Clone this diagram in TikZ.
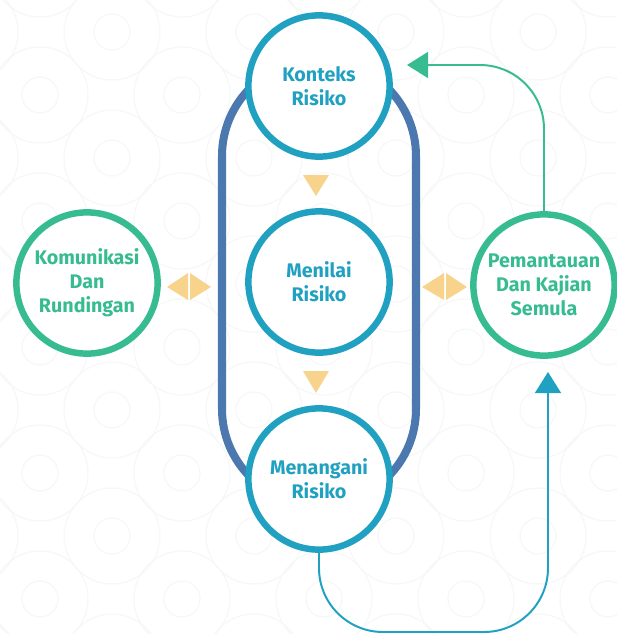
\documentclass[tikz,border=0pt]{standalone}
\usepackage{fontspec}
\setsansfont{Fira Sans}
\usetikzlibrary{arrows.meta}

\definecolor{riskblue}{RGB}{33,161,193}
\definecolor{riskgreen}{RGB}{55,188,146}
\definecolor{loopblue}{RGB}{75,120,174}
\definecolor{softyellow}{RGB}{248,211,140}
\definecolor{faintgrey}{RGB}{246,247,248}

\tikzset{
  stepcircle/.style={circle, draw=#1, line width=4.6pt, fill=white,
    minimum size=3.53cm, inner sep=0pt, text=#1, align=center,
    font=\sffamily\bfseries\fontsize{14}{17}\selectfont},
  backarrow/.style={draw=#1, line width=1.4pt, rounded corners=1.6cm,
    -{Triangle[length=15pt,width=18.5pt,fill=#1]}},
}

\begin{document}
\begin{tikzpicture}[x=0.025cm, y=-0.025cm]
      \useasboundingbox (0,0) rectangle (617,634);
      \clip (0,0) rectangle (617,634);
      % faint background pattern
      \foreach \i in {-1,...,4} {
        \foreach \j in {-1,...,5} {
          \draw[faintgrey, line width=0.9pt] (40+142*\i, 95+126*\j) circle[radius=18] circle[radius=48];
          \draw[faintgrey, line width=0.9pt] (112+142*\i, 32+126*\j) circle[radius=18] circle[radius=48];
        }
      }
      % loop behind the three steps
      \draw[loopblue, line width=5.7pt, rounded corners=2.4cm] (222,60) rectangle (416,505);
      \node[stepcircle=riskblue] (kon) at (319,86) {Konteks\\Risiko};
      \node[stepcircle=riskblue] (mnl) at (319,282) {Menilai\\Risiko};
      \node[stepcircle=riskblue] (mng) at (319,479) {Menangani\\Risiko};
      \node[stepcircle=riskgreen] (kom) at (87,283) {Komunikasi\\Dan\\Rundingan};
      \node[stepcircle=riskgreen] (pem) at (544,285) {Pemantauan\\Dan Kajian\\Semula};
      % yellow pointers
      \fill[softyellow] (303,175) -- (329,175) -- (316,196) -- cycle;
      \fill[softyellow] (303,371) -- (329,371) -- (316,393) -- cycle;
      \fill[softyellow] (188,273) -- (188,300) -- (167,287) -- cycle;
      \fill[softyellow] (190,273) -- (190,300) -- (211,287) -- cycle;
      \fill[softyellow] (444,273) -- (444,300) -- (422,287) -- cycle;
      \fill[softyellow] (446,273) -- (446,300) -- (467,287) -- cycle;
      % feedback arrows
      \coordinate (kontip) at (407,65);
      \draw[backarrow=riskgreen] (pem.north) -- (pem.north |- kontip) -- (kontip);
      \coordinate (low) at (319,632);
      \coordinate (pemtip) at (548,372);
      \draw[backarrow=riskblue] (mng.south) -- (low) -| (pemtip);
\end{tikzpicture}
\end{document}
